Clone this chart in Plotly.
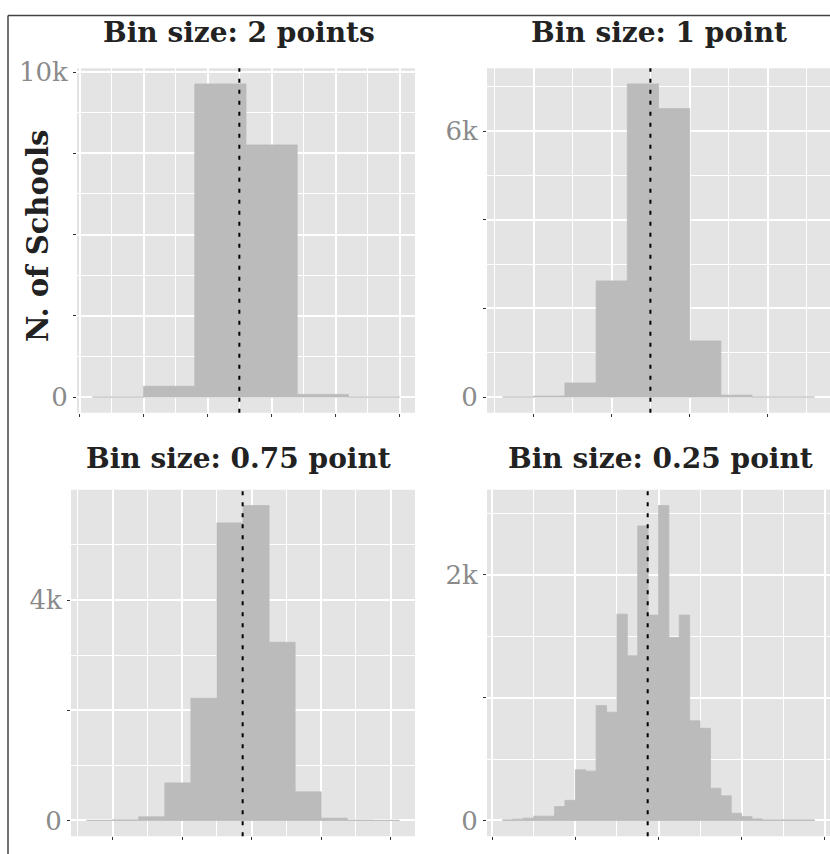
import plotly.graph_objects as go

# ---------------- data ----------------
titles = ["Bin size: 2 points", "Bin size: 1 point", "Bin size: 0.75 point", "Bin size: 0.25 point"]
y_title = "N. of Schools"

bin_width_2 = 2.0
bin_start_2 = -2.0
counts_2 = [3, 333, 9636, 7758, 82, 3]

bin_width_1 = 1.0
bin_start_1 = -1.0
counts_1 = [3, 22, 318, 2622, 7067, 6511, 1267, 44, 3, 3]

bin_width_075 = 0.75
bin_start_075 = -0.75
counts_075 = [3, 12, 66, 682, 2218, 5400, 5716, 3234, 520, 42, 8, 3]

bin_width_025 = 0.25
bin_start_025 = 0.25
counts_025 = [5, 11, 19, 35, 35, 113, 164, 413, 402, 936, 882, 1681, 1341, 2400,
              1673, 2566, 1491, 1673, 812, 751, 263, 201, 59, 32, 13, 5, 5, 5, 5, 5]

mean_score = 3.74

# x breaks (major / minor) and y breaks per panel
x_major = [[-2.5, 0, 2.5, 5, 7.5, 10], [0, 2.5, 5, 7.5], [0, 2, 4, 6, 8], [0, 2, 4, 6, 8]]
x_minor = [[-1.25, 1.25, 3.75, 6.25, 8.75], [-1.25, 1.25, 3.75, 6.25, 8.75], [-1, 1, 3, 5, 7], [1, 3, 5, 7]]
y_major = [[0, 2500, 5000, 7500, 10000], [0, 2000, 4000, 6000], [0, 2000, 4000], [0, 1000, 2000]]
y_labels = [["0", "", "", "", "10k"], ["0", "", "", "6k"], ["0", "", "4k"], ["0", "", "2k"]]
y_minor = [[1250, 3750, 6250, 8750], [1000, 3000, 5000, 7000], [1000, 3000, 5000], [500, 1500, 2500]]

# ---------------- style ----------------
W, H = 830, 854
SERIF = "DejaVu Serif"
BAR = "#bbbbbb"
PANEL = "#e4e4e4"
TICKFONT = dict(family=SERIF, size=26, color="#8a8a8a")
TITLEFONT = dict(family=SERIF, size=28, color="#222222")

# panel pixel boxes: (x0, x1, y0_top, y1_bottom)
boxes = [(77, 415, 58, 407), (487, 830, 58, 407), (71, 415, 485, 836), (487, 830, 485, 836)]
title_cx = [239, 659, 238, 660]
title_cy = [22, 22, 453, 453]

panels = [
    (bin_start_2, bin_width_2, counts_2),
    (bin_start_1, bin_width_1, counts_1),
    (bin_start_075, bin_width_075, counts_075),
    (bin_start_025, bin_width_025, counts_025),
]

fig = go.Figure()
layout = dict(
    width=W, height=H, margin=dict(l=0, r=0, t=0, b=0),
    paper_bgcolor="white", plot_bgcolor=PANEL, showlegend=False,
    annotations=[], shapes=[],
)

for i, (start, bw, counts) in enumerate(panels):
    n = i + 1
    xa = "x" if n == 1 else f"x{n}"
    ya = "y" if n == 1 else f"y{n}"
    centers = [start + bw * (k + 0.5) for k in range(len(counts))]
    fig.add_trace(go.Bar(x=centers, y=counts, width=[bw] * len(counts),
                         marker=dict(color=BAR, line=dict(width=0.8, color=BAR)),
                         xaxis=xa, yaxis=ya, hoverinfo="x+y"))
    lo = start
    hi = start + bw * len(counts)
    pad = 0.05 * (hi - lo)
    ymax = max(counts)
    x0, x1, yt, yb = boxes[i]
    layout["xaxis" if n == 1 else f"xaxis{n}"] = dict(
        domain=[x0 / W, x1 / W], anchor=ya, range=[lo - pad, hi + pad],
        tickmode="array", tickvals=x_major[i], showticklabels=False,
        ticks="outside", ticklen=3, tickwidth=1, tickcolor="#333333",
        showgrid=True, gridcolor="white", gridwidth=1.6,
        minor=dict(tickmode="array", tickvals=x_minor[i], showgrid=True,
                   gridcolor="white", gridwidth=0.8, ticks=""),
        zeroline=False, showline=False, fixedrange=True,
    )
    layout["yaxis" if n == 1 else f"yaxis{n}"] = dict(
        domain=[1 - yb / H, 1 - yt / H], anchor=xa, range=[-0.05 * ymax, 1.05 * ymax],
        tickmode="array", tickvals=y_major[i], ticktext=y_labels[i],
        ticks="outside", ticklen=3, tickwidth=1, tickcolor="#333333",
        tickfont=TICKFONT,
        showgrid=True, gridcolor="white", gridwidth=1.6,
        minor=dict(tickmode="array", tickvals=y_minor[i], showgrid=True,
                   gridcolor="white", gridwidth=0.8, ticks=""),
        zeroline=False, showline=False, fixedrange=True,
    )
    layout["shapes"].append(dict(
        type="line", xref=xa, yref=f"{ya} domain", x0=mean_score, x1=mean_score, y0=0, y1=1,
        line=dict(color="black", width=2, dash="4px,7px"), layer="above"))
    layout["annotations"].append(dict(
        text=f"<b>{titles[i]}</b>", xref="paper", yref="paper",
        x=title_cx[i] / W, y=1 - title_cy[i] / H, xanchor="center", yanchor="middle",
        showarrow=False, font=TITLEFONT))

layout["annotations"].append(dict(
    text=f"<b>{y_title}</b>", xref="paper", yref="paper", x=38 / W, y=1 - 228 / H,
    xanchor="center", yanchor="middle", textangle=-90, showarrow=False,
    font=dict(family=SERIF, size=29, color="#222222")))

# outer frame (top and left edges visible in the crop)
layout["shapes"].append(dict(type="line", xref="paper", yref="paper", x0=8 / W, x1=1,
                             y0=1 - 4.5 / H, y1=1 - 4.5 / H, line=dict(color="#444444", width=1.5)))
layout["shapes"].append(dict(type="line", xref="paper", yref="paper", x0=8 / W, x1=8 / W,
                             y0=0, y1=1 - 4.5 / H, line=dict(color="#444444", width=1.5)))

fig.update_layout(**layout)
fig.write_html("out.html")
